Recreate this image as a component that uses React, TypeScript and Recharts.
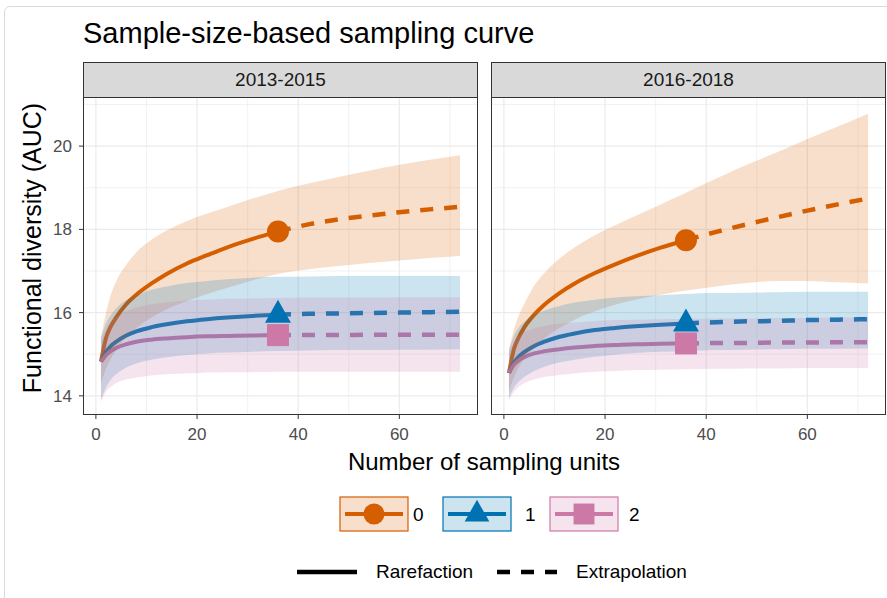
import React from "react";
import { ComposedChart, Line, Area, XAxis, YAxis, ReferenceLine } from "recharts";

const UNITS = [1, 2, 3, 4, 6, 8, 11, 14, 18, 22, 26, 31, 36, 42, 48, 54, 60, 66, 72];
const OBSERVED_UNITS = 36;

const PERIODS = ["2013-2015", "2016-2018"];
const ORDERS = ["0", "1", "2"];
const COLORS = ["#D55E00", "#0072B2", "#CC79A7"];

const X_TICKS = [0, 20, 40, 60];
const X_MINOR = [10, 30, 50, 70];
const Y_TICKS = [14, 16, 18, 20];
const Y_MINOR = [15, 17, 19, 21];

// 2013-2015
const P1_Q0_EST = [14.82, 15.39, 15.68, 15.88, 16.2, 16.43, 16.7, 16.93, 17.18, 17.38, 17.57, 17.77, 17.95, 18.12, 18.24, 18.33, 18.41, 18.48, 18.54];
const P1_Q0_LO = [14.3, 14.65, 14.9, 15.1, 15.4, 15.63, 15.88, 16.08, 16.28, 16.45, 16.6, 16.78, 16.93, 17.04, 17.12, 17.19, 17.25, 17.31, 17.36];
const P1_Q0_HI = [15.4, 16.0, 16.45, 16.75, 17.15, 17.45, 17.75, 17.97, 18.2, 18.38, 18.54, 18.74, 18.92, 19.1, 19.26, 19.41, 19.55, 19.67, 19.78];
const P1_Q1_EST = [14.82, 15.05, 15.2, 15.3, 15.45, 15.55, 15.65, 15.72, 15.79, 15.84, 15.88, 15.92, 15.95, 15.97, 15.98, 15.99, 16.0, 16.01, 16.02];
const P1_Q1_LO = [13.9, 14.2, 14.4, 14.52, 14.68, 14.78, 14.87, 14.93, 14.98, 15.02, 15.04, 15.06, 15.08, 15.09, 15.1, 15.1, 15.11, 15.11, 15.12];
const P1_Q1_HI = [15.4, 15.75, 15.95, 16.1, 16.3, 16.42, 16.55, 16.63, 16.71, 16.76, 16.8, 16.84, 16.86, 16.87, 16.88, 16.88, 16.88, 16.88, 16.88];
const P1_Q2_EST = [14.82, 14.98, 15.08, 15.15, 15.24, 15.3, 15.35, 15.38, 15.41, 15.43, 15.44, 15.45, 15.46, 15.46, 15.46, 15.47, 15.47, 15.47, 15.47];
const P1_Q2_LO = [13.85, 14.1, 14.22, 14.3, 14.39, 14.44, 14.49, 14.52, 14.54, 14.56, 14.57, 14.57, 14.58, 14.58, 14.58, 14.58, 14.58, 14.58, 14.58];
const P1_Q2_HI = [15.3, 15.6, 15.78, 15.9, 16.03, 16.12, 16.2, 16.25, 16.29, 16.31, 16.33, 16.34, 16.35, 16.36, 16.36, 16.36, 16.37, 16.37, 16.37];

// 2016-2018
const P2_Q0_EST = [14.55, 15.13, 15.42, 15.64, 15.95, 16.19, 16.47, 16.7, 16.95, 17.16, 17.35, 17.56, 17.74, 17.94, 18.12, 18.29, 18.45, 18.6, 18.74];
const P2_Q0_LO = [14.1, 14.45, 14.7, 14.88, 15.15, 15.38, 15.63, 15.83, 16.03, 16.19, 16.31, 16.43, 16.53, 16.63, 16.71, 16.76, 16.76, 16.73, 16.7];
const P2_Q0_HI = [15.1, 15.6, 15.95, 16.2, 16.65, 16.95, 17.3, 17.57, 17.86, 18.1, 18.32, 18.6, 18.88, 19.22, 19.55, 19.85, 20.17, 20.47, 20.78];
const P2_Q1_EST = [14.55, 14.8, 14.95, 15.05, 15.2, 15.3, 15.42, 15.5, 15.58, 15.63, 15.67, 15.71, 15.74, 15.77, 15.79, 15.8, 15.82, 15.83, 15.84];
const P2_Q1_LO = [13.95, 14.2, 14.35, 14.45, 14.6, 14.7, 14.8, 14.87, 14.94, 14.99, 15.03, 15.06, 15.08, 15.1, 15.11, 15.12, 15.13, 15.13, 15.14];
const P2_Q1_HI = [15.1, 15.45, 15.65, 15.78, 15.95, 16.05, 16.16, 16.24, 16.31, 16.36, 16.39, 16.42, 16.45, 16.47, 16.48, 16.49, 16.5, 16.5, 16.5];
const P2_Q2_EST = [14.55, 14.75, 14.86, 14.93, 15.02, 15.07, 15.12, 15.16, 15.2, 15.22, 15.24, 15.25, 15.26, 15.27, 15.27, 15.28, 15.28, 15.29, 15.29];
const P2_Q2_LO = [13.9, 14.1, 14.22, 14.3, 14.39, 14.45, 14.5, 14.54, 14.58, 14.6, 14.62, 14.63, 14.64, 14.65, 14.66, 14.66, 14.67, 14.67, 14.67];
const P2_Q2_HI = [15.0, 15.3, 15.45, 15.53, 15.62, 15.68, 15.73, 15.76, 15.8, 15.82, 15.83, 15.84, 15.85, 15.86, 15.86, 15.87, 15.87, 15.88, 15.88];

const FONT = "'Liberation Sans', Arial, Helvetica, sans-serif";

const PLOT_TOP = 97;
const PLOT_W = 395;
const PLOT_H = 318;
const PANEL_LEFT = [83, 491];
const Y_AXIS_W = 40;
const X_AXIS_H = 40;
const STRIP_H = 35;

function buildRows(est: number[][], lo: number[][], hi: number[][]) {
  return UNITS.map((x, i) => {
    const row: any = { x };
    ORDERS.forEach((q, k) => {
      row[`band${q}`] = [lo[k][i], hi[k][i]];
      row[`rare${q}`] = x <= OBSERVED_UNITS ? est[k][i] : undefined;
      row[`ext${q}`] = x >= OBSERVED_UNITS ? est[k][i] : undefined;
    });
    return row;
  });
}

const ROWS = [
  buildRows([P1_Q0_EST, P1_Q1_EST, P1_Q2_EST], [P1_Q0_LO, P1_Q1_LO, P1_Q2_LO], [P1_Q0_HI, P1_Q1_HI, P1_Q2_HI]),
  buildRows([P2_Q0_EST, P2_Q1_EST, P2_Q2_EST], [P2_Q0_LO, P2_Q1_LO, P2_Q2_LO], [P2_Q0_HI, P2_Q1_HI, P2_Q2_HI]),
];

function MarkerShape({ k, cx, cy, scale = 1 }: { k: number; cx: number; cy: number; scale?: number }) {
  const c = COLORS[k];
  if (k === 0) return <circle cx={cx} cy={cy} r={11 * scale} fill={c} />;
  if (k === 1)
    return (
      <polygon
        points={`${cx},${cy - 15 * scale} ${cx + 13 * scale},${cy + 8 * scale} ${cx - 13 * scale},${cy + 8 * scale}`}
        fill={c}
      />
    );
  return <rect x={cx - 11 * scale} y={cy - 11 * scale} width={22 * scale} height={22 * scale} fill={c} />;
}

const tickStyle = { fill: "#4D4D4D", fontSize: 17, fontFamily: FONT };

function Panel({ idx }: { idx: number }) {
  const showY = idx === 0;
  const left = PANEL_LEFT[idx];
  return (
    <>
      <div style={{ position: "absolute", left: showY ? left - Y_AXIS_W : left, top: PLOT_TOP }}>
        <ComposedChart
          width={PLOT_W + (showY ? Y_AXIS_W : 0)}
          height={PLOT_H + X_AXIS_H}
          data={ROWS[idx]}
          margin={{ top: 0, right: 0, bottom: 0, left: 0 }}
        >
          <XAxis
            type="number"
            dataKey="x"
            domain={[-2.55, 75.55]}
            ticks={X_TICKS}
            interval={0}
            allowDataOverflow
            axisLine={false}
            tickLine={{ stroke: "#333333" }}
            tickSize={4}
            tickMargin={9}
            height={X_AXIS_H}
            tick={tickStyle}
          />
          <YAxis
            type="number"
            domain={[13.54, 21.18]}
            ticks={Y_TICKS}
            interval={0}
            allowDataOverflow
            hide={!showY}
            width={showY ? Y_AXIS_W : 0}
            axisLine={false}
            tickLine={{ stroke: "#333333" }}
            tickSize={4}
            tickMargin={7}
            tick={tickStyle}
          />
          {X_MINOR.map((v) => (
            <ReferenceLine key={`xm${v}`} x={v} stroke="#EFEFEF" strokeWidth={0.8} zIndex={-100} />
          ))}
          {Y_MINOR.map((v) => (
            <ReferenceLine key={`ym${v}`} y={v} stroke="#EFEFEF" strokeWidth={0.8} zIndex={-100} />
          ))}
          {X_TICKS.map((v) => (
            <ReferenceLine key={`x${v}`} x={v} stroke="#EBEBEB" strokeWidth={1.2} zIndex={-100} />
          ))}
          {Y_TICKS.map((v) => (
            <ReferenceLine key={`y${v}`} y={v} stroke="#EBEBEB" strokeWidth={1.2} zIndex={-100} />
          ))}
          {ORDERS.map((q, k) => (
            <Line
              key={`rare${q}`}
              type="monotone"
              dataKey={`rare${q}`}
              stroke={COLORS[k]}
              strokeWidth={4}
              isAnimationActive={false}
              activeDot={false}
              dot={(p: any) =>
                p.payload && p.payload.x === OBSERVED_UNITS ? (
                  <MarkerShape key={`m${q}`} k={k} cx={p.cx} cy={p.cy} />
                ) : (
                  <g key={`d${q}-${p.index}`} />
                )
              }
            />
          ))}
          {ORDERS.map((q, k) => (
            <Line
              key={`ext${q}`}
              type="monotone"
              dataKey={`ext${q}`}
              stroke={COLORS[k]}
              strokeWidth={4.5}
              strokeDasharray="13 11"
              isAnimationActive={false}
              activeDot={false}
              dot={false}
            />
          ))}
          {ORDERS.map((q, k) => (
            <Area
              key={`band${q}`}
              type="monotone"
              dataKey={`band${q}`}
              stroke="none"
              fill={COLORS[k]}
              fillOpacity={0.2}
              isAnimationActive={false}
              activeDot={false}
              zIndex={450}
            />
          ))}
        </ComposedChart>
      </div>
      <div
        style={{
          position: "absolute",
          left,
          top: PLOT_TOP,
          width: PLOT_W,
          height: PLOT_H,
          border: "1px solid #333333",
          boxSizing: "border-box",
          pointerEvents: "none",
        }}
      />
      <div
        style={{
          position: "absolute",
          left,
          top: PLOT_TOP - STRIP_H,
          width: PLOT_W,
          height: STRIP_H + 1,
          background: "#D9D9D9",
          border: "1px solid #333333",
          boxSizing: "border-box",
          display: "flex",
          alignItems: "center",
          justifyContent: "center",
          fontFamily: FONT,
          fontSize: 19,
          color: "#1A1A1A",
        }}
      >
        {PERIODS[idx]}
      </div>
    </>
  );
}

function Legend() {
  const boxes = [340, 443, 550];
  const labels = [413, 525, 629];
  return (
    <>
      {ORDERS.map((q, k) => (
        <g key={q}>
          <rect x={boxes[k]} y={497} width={68} height={34} fill={COLORS[k]} fillOpacity={0.2} stroke={COLORS[k]} strokeWidth={1.2} />
          <line x1={boxes[k] + 5} x2={boxes[k] + 63} y1={514} y2={514} stroke={COLORS[k]} strokeWidth={4} />
          <MarkerShape k={k} cx={boxes[k] + 34} cy={514} scale={0.95} />
          <text x={labels[k]} y={521} fontSize={19} fill="#000">
            {q}
          </text>
        </g>
      ))}
      <line x1={297} x2={357} y1={572} y2={572} stroke="#000" strokeWidth={4.5} />
      <text x={376} y={578} fontSize={19} fill="#000">
        Rarefaction
      </text>
      <line x1={497} x2={557} y1={572} y2={572} stroke="#000" strokeWidth={4.5} strokeDasharray="13 11" />
      <text x={576} y={578} fontSize={19} fill="#000">
        Extrapolation
      </text>
    </>
  );
}

export default function App() {
  return (
    <div style={{ position: "absolute", left: 0, top: 0, width: 887, height: 598, overflow: "hidden", background: "#fff", fontFamily: FONT }}>
      <div
        style={{
          position: "absolute",
          left: 4,
          top: 6,
          width: 900,
          height: 620,
          border: "1px solid #DADADA",
          borderRadius: 6,
          boxSizing: "border-box",
        }}
      />
      <Panel idx={0} />
      <Panel idx={1} />
      <svg width={887} height={598} style={{ position: "absolute", left: 0, top: 0, pointerEvents: "none", fontFamily: FONT }}>
        <text x={83} y={43} fontSize={29} fill="#000">
          Sample-size-based sampling curve
        </text>
        <text transform="translate(41, 248) rotate(-90)" textAnchor="middle" fontSize={25} fill="#000">
          Functional diversity (AUC)
        </text>
        <text x={484} y={470} textAnchor="middle" fontSize={24} fill="#000">
          Number of sampling units
        </text>
        <Legend />
      </svg>
    </div>
  );
}
